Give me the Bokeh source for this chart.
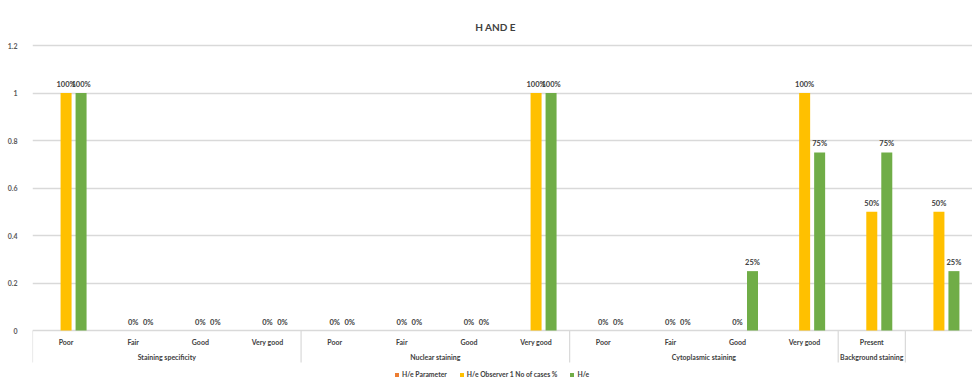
from bokeh.plotting import figure
from bokeh.models import (ColumnDataSource, FactorRange, Range1d, FixedTicker, Legend,
                          LegendItem, Label)
from bokeh.transform import dodge
from bokeh.core.properties import value
from bokeh.embed import file_html
from bokeh.resources import INLINE

# ---- data ----
groups = ["Staining specificity"] * 4 + ["Nuclear staining"] * 4 + \
         ["Cytoplasmic staining"] * 4 + ["Background staining", " "]
categories = ["Poor", "Fair", "Good", "Very good",
              "Poor", "Fair", "Good", "Very good",
              "Poor", "Fair", "Good", "Very good",
              "Present", " "]
# "H/e Parameter" is a text column in the source sheet: no visible bars
parameter = [0, 0, 0, 0, 0, 0, 0, 0, 0, 0, 0, 0, 0, 0]
observer1 = [1, 0, 0, 0, 0, 0, 0, 1, 0, 0, 0, 1, 0.5, 0.5]
he_values = [1, 0, 0, 0, 0, 0, 0, 1, 0, 0, 0.25, 0.75, 0.75, 0.25]
series_names = ["H/e Parameter", "H/e Observer 1 No of cases %", "H/e"]
y_ticks = [0, 0.2, 0.4, 0.6, 0.8, 1, 1.2]
title_text = "H AND E"

ORANGE, GOLD, GREEN = "#ED7D31", "#FFC000", "#70AD47"
FONT = "Lato"
TXT = "#404040"
GRID = "#d9d9d9"

factors = list(zip(groups, categories))
src = ColumnDataSource(dict(
    x=factors,
    par=parameter, obs=observer1, he=he_values,
    obs_lbl=[f"{round(v * 100)}%" for v in observer1],
    he_lbl=[f"{round(v * 100)}%" for v in he_values],
    cat=categories,
))

px_per_unit = 237.5
W, H = 972, 382
zero_px = 330
p = figure(width=W, height=H, output_backend="svg", toolbar_location=None,
           x_range=FactorRange(*factors, range_padding=0, group_padding=0,
                               subgroup_padding=0, factor_padding=0),
           y_range=Range1d(-(H - zero_px) / px_per_unit, zero_px / px_per_unit),
           min_border_left=32, min_border_right=0, min_border_top=0, min_border_bottom=0)
p.outline_line_color = None
p.background_fill_color = "white"
p.border_fill_color = "white"

# axes
p.xaxis.visible = False
p.xgrid.visible = False
p.yaxis.ticker = FixedTicker(ticks=y_ticks)
p.ygrid.ticker = FixedTicker(ticks=y_ticks)
p.ygrid.grid_line_color = GRID
p.ygrid.grid_line_width = 1.5
p.yaxis.axis_line_color = None
p.yaxis.major_tick_line_color = None
p.yaxis.minor_tick_line_color = None
p.yaxis.major_label_standoff = 9
p.yaxis.major_label_text_font = FONT
p.yaxis.major_label_text_font_size = "7px"
p.yaxis.major_label_text_font_style = "bold"
p.yaxis.major_label_text_color = "#595959"

off = 15 / 67.14
bw = 11 / 67.14

r_par = p.vbar(x=dodge("x", -off, range=p.x_range), top="par", width=bw,
               fill_color=ORANGE, line_color=None, source=src)
r_obs = p.vbar(x=dodge("x", 0, range=p.x_range), top="obs", width=bw,
               fill_color=GOLD, line_color=None, source=src)
r_he = p.vbar(x=dodge("x", off, range=p.x_range), top="he", width=bw,
              fill_color=GREEN, line_color=None, source=src)

# value labels
lbl_kw = dict(text_font=value(FONT), text_font_size="7.5px", text_font_style="bold",
              text_color=TXT, text_align="center", text_baseline="bottom", y_offset=-4)
p.text(x=dodge("x", 0, range=p.x_range), y="obs", text="obs_lbl", source=src, **lbl_kw)
p.text(x=dodge("x", off, range=p.x_range), y="he", text="he_lbl", source=src, **lbl_kw)

# category labels (first axis row)
p.text(x="x", y=-11 / px_per_unit, text="cat", source=src, text_font=value(FONT),
       text_font_size="7px", text_font_style="bold", text_color=TXT,
       text_align="center", text_baseline="middle")

# group labels (second axis row)
uniq_groups = []
for g in groups:
    if g not in uniq_groups:
        uniq_groups.append(g)
gsrc = ColumnDataSource(dict(g=uniq_groups, name=[g.strip() for g in uniq_groups]))
p.text(x="g", y=-26 / px_per_unit, text="name", source=gsrc, text_font=value(FONT),
       text_font_size="7px", text_font_style="bold", text_color=TXT,
       text_align="center", text_baseline="middle")

# group separators at start of each group
starts = [factors[groups.index(g)] for g in uniq_groups]
ssrc = ColumnDataSource(dict(x=starts))
p.segment(x0=dodge("x", -0.5, range=p.x_range), x1=dodge("x", -0.5, range=p.x_range),
          y0=0, y1=-32 / px_per_unit, source=ssrc, line_color=GRID, line_width=1.2)

# title
p.add_layout(Label(x=495 - 32, y=H - 26, x_units="screen", y_units="screen",
                   text=title_text, text_font=FONT, text_font_size="10px",
                   text_font_style="bold", text_color=TXT,
                   text_align="center", text_baseline="middle"))

legend = Legend(items=[LegendItem(label=series_names[0], renderers=[r_par]),
                       LegendItem(label=series_names[1], renderers=[r_obs]),
                       LegendItem(label=series_names[2], renderers=[r_he])],
                orientation="horizontal", location=(362, 4),
                glyph_width=5, glyph_height=5, label_standoff=3, spacing=12,
                padding=0, margin=0, border_line_color=None,
                background_fill_alpha=0,
                label_text_font=FONT, label_text_font_size="6.8px",
                label_text_font_style="bold", label_text_color=TXT,
                label_height=6)
p.add_layout(legend)

open("out.html", "w").write(file_html(p, INLINE))
